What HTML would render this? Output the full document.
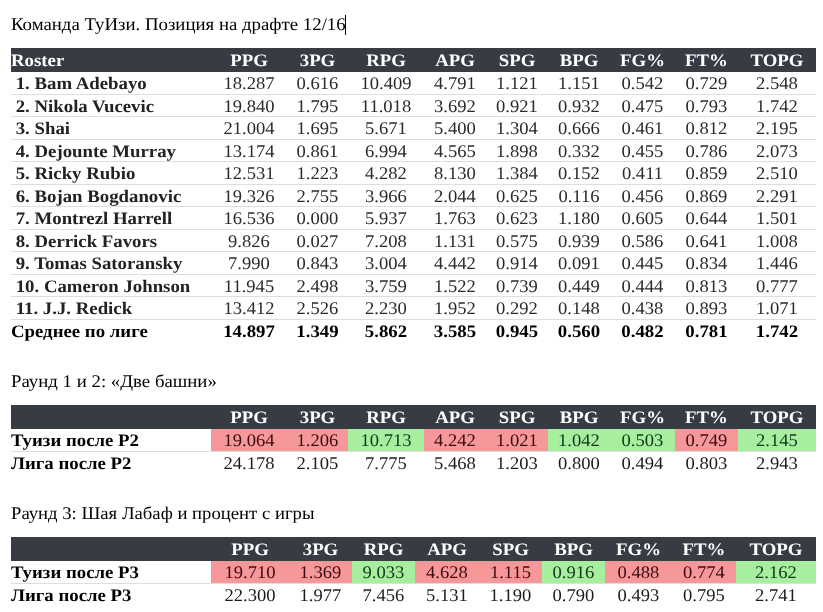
<!DOCTYPE html>
<html><head><meta charset="utf-8"><title>ТуИзи</title>
<style>
html,body{margin:0;padding:0;background:#fff;}
body{width:823px;height:612px;position:relative;overflow:hidden;font-family:"Liberation Serif","Noto Serif CJK SC",serif;font-size:17.33px;color:#000;}
.t{position:absolute;white-space:pre;line-height:normal;}
.t{font-size:17.8px;transform:scaleX(1.045);text-rendering:geometricPrecision;}
.t.b{font-size:17.5px;transform:scaleX(1.074);}
.t.ttl{transform:scaleX(1.058);}
.t.ttl3{transform:scaleX(1.051);}
.c{text-align:center;transform-origin:50% 0;}
.l{transform-origin:0 0;}
.r{position:absolute;}
#wrap{position:absolute;left:0;top:0;width:823px;height:612px;will-change:transform;}
.b{font-weight:bold;}
.w{color:#fff;}
.nm{color:#222226;}
.n{color:#2a2a2e;}
.k{color:#000;}
</style></head><body><div id="wrap">
<div class="t l ttl" style="left:11px;top:14px;">Команда ТуИзи. Позиция на драфте 12/16</div>
<div class="r" style="left:345px;top:15px;width:1px;height:20px;background:#000"></div>
<div class="r" style="left:11px;top:48px;width:805px;height:24px;background:#373b44"></div>
<div class="t l b w" style="left:11px;top:50px;">Roster</div>
<div class="t c b w" style="left:211px;width:76px;top:50px;">PPG</div>
<div class="t c b w" style="left:287px;width:61px;top:50px;">3PG</div>
<div class="t c b w" style="left:348px;width:76px;top:50px;">RPG</div>
<div class="t c b w" style="left:424px;width:62px;top:50px;">APG</div>
<div class="t c b w" style="left:486px;width:62px;top:50px;">SPG</div>
<div class="t c b w" style="left:548px;width:62px;top:50px;">BPG</div>
<div class="t c b w" style="left:610px;width:65px;top:50px;">FG%</div>
<div class="t c b w" style="left:675px;width:63px;top:50px;">FT%</div>
<div class="t c b w" style="left:738px;width:78px;top:50px;">TOPG</div>
<div class="t l b nm" style="left:11px;top:73px;"> 1. Bam Adebayo</div>
<div class="t c n" style="left:211px;width:76px;top:73px;">18.287</div>
<div class="t c n" style="left:287px;width:61px;top:73px;">0.616</div>
<div class="t c n" style="left:348px;width:76px;top:73px;">10.409</div>
<div class="t c n" style="left:424px;width:62px;top:73px;">4.791</div>
<div class="t c n" style="left:486px;width:62px;top:73px;">1.121</div>
<div class="t c n" style="left:548px;width:62px;top:73px;">1.151</div>
<div class="t c n" style="left:610px;width:65px;top:73px;">0.542</div>
<div class="t c n" style="left:675px;width:63px;top:73px;">0.729</div>
<div class="t c n" style="left:738px;width:78px;top:73px;">2.548</div>
<div class="r" style="left:11px;top:94px;width:805px;height:1px;background:#dedee0"></div>
<div class="t l b nm" style="left:11px;top:96px;"> 2. Nikola Vucevic</div>
<div class="t c n" style="left:211px;width:76px;top:96px;">19.840</div>
<div class="t c n" style="left:287px;width:61px;top:96px;">1.795</div>
<div class="t c n" style="left:348px;width:76px;top:96px;">11.018</div>
<div class="t c n" style="left:424px;width:62px;top:96px;">3.692</div>
<div class="t c n" style="left:486px;width:62px;top:96px;">0.921</div>
<div class="t c n" style="left:548px;width:62px;top:96px;">0.932</div>
<div class="t c n" style="left:610px;width:65px;top:96px;">0.475</div>
<div class="t c n" style="left:675px;width:63px;top:96px;">0.793</div>
<div class="t c n" style="left:738px;width:78px;top:96px;">1.742</div>
<div class="r" style="left:11px;top:116px;width:805px;height:1px;background:#dedee0"></div>
<div class="t l b nm" style="left:11px;top:118px;"> 3. Shai</div>
<div class="t c n" style="left:211px;width:76px;top:118px;">21.004</div>
<div class="t c n" style="left:287px;width:61px;top:118px;">1.695</div>
<div class="t c n" style="left:348px;width:76px;top:118px;">5.671</div>
<div class="t c n" style="left:424px;width:62px;top:118px;">5.400</div>
<div class="t c n" style="left:486px;width:62px;top:118px;">1.304</div>
<div class="t c n" style="left:548px;width:62px;top:118px;">0.666</div>
<div class="t c n" style="left:610px;width:65px;top:118px;">0.461</div>
<div class="t c n" style="left:675px;width:63px;top:118px;">0.812</div>
<div class="t c n" style="left:738px;width:78px;top:118px;">2.195</div>
<div class="r" style="left:11px;top:139px;width:805px;height:1px;background:#dedee0"></div>
<div class="t l b nm" style="left:11px;top:141px;"> 4. Dejounte Murray</div>
<div class="t c n" style="left:211px;width:76px;top:141px;">13.174</div>
<div class="t c n" style="left:287px;width:61px;top:141px;">0.861</div>
<div class="t c n" style="left:348px;width:76px;top:141px;">6.994</div>
<div class="t c n" style="left:424px;width:62px;top:141px;">4.565</div>
<div class="t c n" style="left:486px;width:62px;top:141px;">1.898</div>
<div class="t c n" style="left:548px;width:62px;top:141px;">0.332</div>
<div class="t c n" style="left:610px;width:65px;top:141px;">0.455</div>
<div class="t c n" style="left:675px;width:63px;top:141px;">0.786</div>
<div class="t c n" style="left:738px;width:78px;top:141px;">2.073</div>
<div class="r" style="left:11px;top:161px;width:805px;height:1px;background:#dedee0"></div>
<div class="t l b nm" style="left:11px;top:163px;"> 5. Ricky Rubio</div>
<div class="t c n" style="left:211px;width:76px;top:163px;">12.531</div>
<div class="t c n" style="left:287px;width:61px;top:163px;">1.223</div>
<div class="t c n" style="left:348px;width:76px;top:163px;">4.282</div>
<div class="t c n" style="left:424px;width:62px;top:163px;">8.130</div>
<div class="t c n" style="left:486px;width:62px;top:163px;">1.384</div>
<div class="t c n" style="left:548px;width:62px;top:163px;">0.152</div>
<div class="t c n" style="left:610px;width:65px;top:163px;">0.411</div>
<div class="t c n" style="left:675px;width:63px;top:163px;">0.859</div>
<div class="t c n" style="left:738px;width:78px;top:163px;">2.510</div>
<div class="r" style="left:11px;top:184px;width:805px;height:1px;background:#dedee0"></div>
<div class="t l b nm" style="left:11px;top:186px;"> 6. Bojan Bogdanovic</div>
<div class="t c n" style="left:211px;width:76px;top:186px;">19.326</div>
<div class="t c n" style="left:287px;width:61px;top:186px;">2.755</div>
<div class="t c n" style="left:348px;width:76px;top:186px;">3.966</div>
<div class="t c n" style="left:424px;width:62px;top:186px;">2.044</div>
<div class="t c n" style="left:486px;width:62px;top:186px;">0.625</div>
<div class="t c n" style="left:548px;width:62px;top:186px;">0.116</div>
<div class="t c n" style="left:610px;width:65px;top:186px;">0.456</div>
<div class="t c n" style="left:675px;width:63px;top:186px;">0.869</div>
<div class="t c n" style="left:738px;width:78px;top:186px;">2.291</div>
<div class="r" style="left:11px;top:206px;width:805px;height:1px;background:#dedee0"></div>
<div class="t l b nm" style="left:11px;top:208px;"> 7. Montrezl Harrell</div>
<div class="t c n" style="left:211px;width:76px;top:208px;">16.536</div>
<div class="t c n" style="left:287px;width:61px;top:208px;">0.000</div>
<div class="t c n" style="left:348px;width:76px;top:208px;">5.937</div>
<div class="t c n" style="left:424px;width:62px;top:208px;">1.763</div>
<div class="t c n" style="left:486px;width:62px;top:208px;">0.623</div>
<div class="t c n" style="left:548px;width:62px;top:208px;">1.180</div>
<div class="t c n" style="left:610px;width:65px;top:208px;">0.605</div>
<div class="t c n" style="left:675px;width:63px;top:208px;">0.644</div>
<div class="t c n" style="left:738px;width:78px;top:208px;">1.501</div>
<div class="r" style="left:11px;top:229px;width:805px;height:1px;background:#dedee0"></div>
<div class="t l b nm" style="left:11px;top:231px;"> 8. Derrick Favors</div>
<div class="t c n" style="left:211px;width:76px;top:231px;">9.826</div>
<div class="t c n" style="left:287px;width:61px;top:231px;">0.027</div>
<div class="t c n" style="left:348px;width:76px;top:231px;">7.208</div>
<div class="t c n" style="left:424px;width:62px;top:231px;">1.131</div>
<div class="t c n" style="left:486px;width:62px;top:231px;">0.575</div>
<div class="t c n" style="left:548px;width:62px;top:231px;">0.939</div>
<div class="t c n" style="left:610px;width:65px;top:231px;">0.586</div>
<div class="t c n" style="left:675px;width:63px;top:231px;">0.641</div>
<div class="t c n" style="left:738px;width:78px;top:231px;">1.008</div>
<div class="r" style="left:11px;top:251px;width:805px;height:1px;background:#dedee0"></div>
<div class="t l b nm" style="left:11px;top:253px;"> 9. Tomas Satoransky</div>
<div class="t c n" style="left:211px;width:76px;top:253px;">7.990</div>
<div class="t c n" style="left:287px;width:61px;top:253px;">0.843</div>
<div class="t c n" style="left:348px;width:76px;top:253px;">3.004</div>
<div class="t c n" style="left:424px;width:62px;top:253px;">4.442</div>
<div class="t c n" style="left:486px;width:62px;top:253px;">0.914</div>
<div class="t c n" style="left:548px;width:62px;top:253px;">0.091</div>
<div class="t c n" style="left:610px;width:65px;top:253px;">0.445</div>
<div class="t c n" style="left:675px;width:63px;top:253px;">0.834</div>
<div class="t c n" style="left:738px;width:78px;top:253px;">1.446</div>
<div class="r" style="left:11px;top:274px;width:805px;height:1px;background:#dedee0"></div>
<div class="t l b nm" style="left:11px;top:276px;"> 10. Cameron Johnson</div>
<div class="t c n" style="left:211px;width:76px;top:276px;">11.945</div>
<div class="t c n" style="left:287px;width:61px;top:276px;">2.498</div>
<div class="t c n" style="left:348px;width:76px;top:276px;">3.759</div>
<div class="t c n" style="left:424px;width:62px;top:276px;">1.522</div>
<div class="t c n" style="left:486px;width:62px;top:276px;">0.739</div>
<div class="t c n" style="left:548px;width:62px;top:276px;">0.449</div>
<div class="t c n" style="left:610px;width:65px;top:276px;">0.444</div>
<div class="t c n" style="left:675px;width:63px;top:276px;">0.813</div>
<div class="t c n" style="left:738px;width:78px;top:276px;">0.777</div>
<div class="r" style="left:11px;top:296px;width:805px;height:1px;background:#dedee0"></div>
<div class="t l b nm" style="left:11px;top:298px;"> 11. J.J. Redick</div>
<div class="t c n" style="left:211px;width:76px;top:298px;">13.412</div>
<div class="t c n" style="left:287px;width:61px;top:298px;">2.526</div>
<div class="t c n" style="left:348px;width:76px;top:298px;">2.230</div>
<div class="t c n" style="left:424px;width:62px;top:298px;">1.952</div>
<div class="t c n" style="left:486px;width:62px;top:298px;">0.292</div>
<div class="t c n" style="left:548px;width:62px;top:298px;">0.148</div>
<div class="t c n" style="left:610px;width:65px;top:298px;">0.438</div>
<div class="t c n" style="left:675px;width:63px;top:298px;">0.893</div>
<div class="t c n" style="left:738px;width:78px;top:298px;">1.071</div>
<div class="r" style="left:11px;top:319px;width:805px;height:1px;background:#dedee0"></div>
<div class="t l b k" style="left:11px;top:321px;">Среднее по лиге</div>
<div class="t c b k" style="left:211px;width:76px;top:321px;">14.897</div>
<div class="t c b k" style="left:287px;width:61px;top:321px;">1.349</div>
<div class="t c b k" style="left:348px;width:76px;top:321px;">5.862</div>
<div class="t c b k" style="left:424px;width:62px;top:321px;">3.585</div>
<div class="t c b k" style="left:486px;width:62px;top:321px;">0.945</div>
<div class="t c b k" style="left:548px;width:62px;top:321px;">0.560</div>
<div class="t c b k" style="left:610px;width:65px;top:321px;">0.482</div>
<div class="t c b k" style="left:675px;width:63px;top:321px;">0.781</div>
<div class="t c b k" style="left:738px;width:78px;top:321px;">1.742</div>
<div class="t l ttl" style="left:11px;top:371px;">Раунд 1 и 2: «Две башни»</div>
<div class="r" style="left:11px;top:405px;width:805px;height:24px;background:#373b44"></div>
<div class="t c b w" style="left:211px;width:76px;top:407px;">PPG</div>
<div class="t c b w" style="left:287px;width:61px;top:407px;">3PG</div>
<div class="t c b w" style="left:348px;width:76px;top:407px;">RPG</div>
<div class="t c b w" style="left:424px;width:62px;top:407px;">APG</div>
<div class="t c b w" style="left:486px;width:62px;top:407px;">SPG</div>
<div class="t c b w" style="left:548px;width:62px;top:407px;">BPG</div>
<div class="t c b w" style="left:610px;width:65px;top:407px;">FG%</div>
<div class="t c b w" style="left:675px;width:63px;top:407px;">FT%</div>
<div class="t c b w" style="left:738px;width:78px;top:407px;">TOPG</div>
<div class="r" style="left:211px;top:429px;width:76px;height:22px;background:#f6989a"></div>
<div class="r" style="left:287px;top:429px;width:61px;height:22px;background:#f6989a"></div>
<div class="r" style="left:348px;top:429px;width:76px;height:22px;background:#a7ef9f"></div>
<div class="r" style="left:424px;top:429px;width:62px;height:22px;background:#f6989a"></div>
<div class="r" style="left:486px;top:429px;width:62px;height:22px;background:#f6989a"></div>
<div class="r" style="left:548px;top:429px;width:62px;height:22px;background:#a7ef9f"></div>
<div class="r" style="left:610px;top:429px;width:65px;height:22px;background:#a7ef9f"></div>
<div class="r" style="left:675px;top:429px;width:63px;height:22px;background:#f6989a"></div>
<div class="r" style="left:738px;top:429px;width:78px;height:22px;background:#a7ef9f"></div>
<div class="r" style="left:11px;top:451px;width:805px;height:1px;background:#dedee0"></div>
<div class="t l b k" style="left:11px;top:430px;">Туизи после Р2</div>
<div class="t c n" style="left:211px;width:76px;top:430px;color:#3a0a10">19.064</div>
<div class="t c n" style="left:287px;width:61px;top:430px;color:#3a0a10">1.206</div>
<div class="t c n" style="left:348px;width:76px;top:430px;color:#10361a">10.713</div>
<div class="t c n" style="left:424px;width:62px;top:430px;color:#3a0a10">4.242</div>
<div class="t c n" style="left:486px;width:62px;top:430px;color:#3a0a10">1.021</div>
<div class="t c n" style="left:548px;width:62px;top:430px;color:#10361a">1.042</div>
<div class="t c n" style="left:610px;width:65px;top:430px;color:#10361a">0.503</div>
<div class="t c n" style="left:675px;width:63px;top:430px;color:#3a0a10">0.749</div>
<div class="t c n" style="left:738px;width:78px;top:430px;color:#10361a">2.145</div>
<div class="t l b k" style="left:11px;top:453px;">Лига после Р2</div>
<div class="t c n" style="left:211px;width:76px;top:453px;color:#1c1c1c">24.178</div>
<div class="t c n" style="left:287px;width:61px;top:453px;color:#1c1c1c">2.105</div>
<div class="t c n" style="left:348px;width:76px;top:453px;color:#1c1c1c">7.775</div>
<div class="t c n" style="left:424px;width:62px;top:453px;color:#1c1c1c">5.468</div>
<div class="t c n" style="left:486px;width:62px;top:453px;color:#1c1c1c">1.203</div>
<div class="t c n" style="left:548px;width:62px;top:453px;color:#1c1c1c">0.800</div>
<div class="t c n" style="left:610px;width:65px;top:453px;color:#1c1c1c">0.494</div>
<div class="t c n" style="left:675px;width:63px;top:453px;color:#1c1c1c">0.803</div>
<div class="t c n" style="left:738px;width:78px;top:453px;color:#1c1c1c">2.943</div>
<div class="t l ttl3" style="left:11px;top:503px;">Раунд 3: Шая Лабаф и процент с игры</div>
<div class="r" style="left:11px;top:537px;width:805px;height:24px;background:#373b44"></div>
<div class="t c b w" style="left:211px;width:78px;top:539px;">PPG</div>
<div class="t c b w" style="left:289px;width:63px;top:539px;">3PG</div>
<div class="t c b w" style="left:352px;width:63px;top:539px;">RPG</div>
<div class="t c b w" style="left:415px;width:64px;top:539px;">APG</div>
<div class="t c b w" style="left:479px;width:63px;top:539px;">SPG</div>
<div class="t c b w" style="left:542px;width:63px;top:539px;">BPG</div>
<div class="t c b w" style="left:605px;width:67px;top:539px;">FG%</div>
<div class="t c b w" style="left:672px;width:64px;top:539px;">FT%</div>
<div class="t c b w" style="left:736px;width:80px;top:539px;">TOPG</div>
<div class="r" style="left:211px;top:561px;width:78px;height:22px;background:#f6989a"></div>
<div class="r" style="left:289px;top:561px;width:63px;height:22px;background:#f6989a"></div>
<div class="r" style="left:352px;top:561px;width:63px;height:22px;background:#a7ef9f"></div>
<div class="r" style="left:415px;top:561px;width:64px;height:22px;background:#f6989a"></div>
<div class="r" style="left:479px;top:561px;width:63px;height:22px;background:#f6989a"></div>
<div class="r" style="left:542px;top:561px;width:63px;height:22px;background:#a7ef9f"></div>
<div class="r" style="left:605px;top:561px;width:67px;height:22px;background:#f6989a"></div>
<div class="r" style="left:672px;top:561px;width:64px;height:22px;background:#f6989a"></div>
<div class="r" style="left:736px;top:561px;width:80px;height:22px;background:#a7ef9f"></div>
<div class="r" style="left:11px;top:583px;width:805px;height:1px;background:#dedee0"></div>
<div class="t l b k" style="left:11px;top:562px;">Туизи после Р3</div>
<div class="t c n" style="left:211px;width:78px;top:562px;color:#3a0a10">19.710</div>
<div class="t c n" style="left:289px;width:63px;top:562px;color:#3a0a10">1.369</div>
<div class="t c n" style="left:352px;width:63px;top:562px;color:#10361a">9.033</div>
<div class="t c n" style="left:415px;width:64px;top:562px;color:#3a0a10">4.628</div>
<div class="t c n" style="left:479px;width:63px;top:562px;color:#3a0a10">1.115</div>
<div class="t c n" style="left:542px;width:63px;top:562px;color:#10361a">0.916</div>
<div class="t c n" style="left:605px;width:67px;top:562px;color:#3a0a10">0.488</div>
<div class="t c n" style="left:672px;width:64px;top:562px;color:#3a0a10">0.774</div>
<div class="t c n" style="left:736px;width:80px;top:562px;color:#10361a">2.162</div>
<div class="t l b k" style="left:11px;top:585px;">Лига после Р3</div>
<div class="t c n" style="left:211px;width:78px;top:585px;color:#1c1c1c">22.300</div>
<div class="t c n" style="left:289px;width:63px;top:585px;color:#1c1c1c">1.977</div>
<div class="t c n" style="left:352px;width:63px;top:585px;color:#1c1c1c">7.456</div>
<div class="t c n" style="left:415px;width:64px;top:585px;color:#1c1c1c">5.131</div>
<div class="t c n" style="left:479px;width:63px;top:585px;color:#1c1c1c">1.190</div>
<div class="t c n" style="left:542px;width:63px;top:585px;color:#1c1c1c">0.790</div>
<div class="t c n" style="left:605px;width:67px;top:585px;color:#1c1c1c">0.493</div>
<div class="t c n" style="left:672px;width:64px;top:585px;color:#1c1c1c">0.795</div>
<div class="t c n" style="left:736px;width:80px;top:585px;color:#1c1c1c">2.741</div>
</div></body></html>
